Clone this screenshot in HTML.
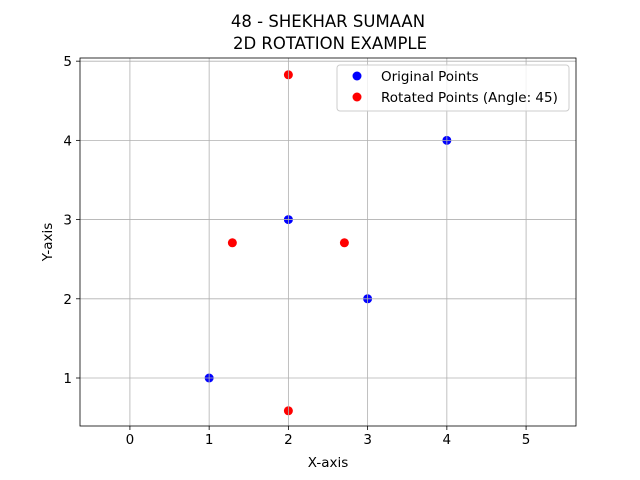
<!DOCTYPE html>
<html><head><meta charset="utf-8"><style>
body{margin:0;background:#fff;}
svg{display:block;font-family:"DejaVu Sans","Liberation Sans",sans-serif;}
</style></head><body>
<svg id="chart" width="640" height="480">
<text x="328" y="27" font-size="16.5" text-anchor="middle">48 - SHEKHAR SUMAAN</text>
<text x="330" y="49" font-size="16.5" text-anchor="middle">2D ROTATION EXAMPLE</text>
<g id="plot"></g>
<text x="328" y="467" font-size="13.5" text-anchor="middle">X-axis</text>
<text x="0" y="0" font-size="13.5" text-anchor="middle" transform="translate(52,242) rotate(-90)">Y-axis</text>
<g>
<rect x="337" y="65" width="232" height="46" rx="3" fill="#fff" fill-opacity="0.8" stroke="#ccc"/>
<circle cx="357" cy="76" r="4.5" fill="#0000ff"/>
<text x="381" y="81" font-size="13.5">Original Points</text>
<circle cx="357" cy="97" r="4.5" fill="#ff0000"/>
<text x="381" y="102" font-size="13.5">Rotated Points (Angle: 45)</text>
</g>
</svg>
<script>
const xTicks=[0,1,2,3,4,5];
const yTicks=[1,2,3,4,5];
const origX=[1,3,4,2];
const origY=[1,2,4,3];
const rotX=[2,2.707,2,1.293];
const rotY=[0.586,2.707,4.828,2.707];
const L=80,R=576,T=58,B=426,xmin=-0.63,xmax=5.63,ymin=0.394,ymax=5.04;
function sx(v){return L+(v-xmin)/(xmax-xmin)*(R-L);}
function sy(v){return B-(v-ymin)/(ymax-ymin)*(B-T);}
const g=document.getElementById('plot');const NS='http://www.w3.org/2000/svg';
function mk(t,a){const e=document.createElementNS(NS,t);for(const k in a)e.setAttribute(k,a[k]);g.appendChild(e);return e;}
origX.forEach((v,i)=>{const c=mk('circle',{cx:sx(v),cy:sy(origY[i]),r:4.5,fill:'#0000ff'});

});
rotX.forEach((v,i)=>{const c=mk('circle',{cx:sx(v),cy:sy(rotY[i]),r:4.5,fill:'#ff0000'});

});
xTicks.forEach(v=>{const x=sx(v);
const l=mk('line',{x1:x,x2:x,y1:T,y2:B,stroke:'#b0b0b0','stroke-width':0.8});


mk('line',{x1:x,x2:x,y1:B,y2:B+4,stroke:'#000','stroke-width':0.8});
const t=mk('text',{x:x,y:B+18,'font-size':13.5,'text-anchor':'middle'});t.textContent=v;

});
yTicks.forEach(v=>{const y=sy(v);
const l=mk('line',{x1:L,x2:R,y1:y,y2:y,stroke:'#b0b0b0','stroke-width':0.8});


mk('line',{x1:L-4,x2:L,y1:y,y2:y,stroke:'#000','stroke-width':0.8});
const t=mk('text',{x:L-8,y:y+5,'font-size':13.5,'text-anchor':'end'});t.textContent=v;

});
const f=mk('rect',{x:L,y:T,width:R-L,height:B-T,fill:'none',stroke:'#000','stroke-width':0.8});


</script>
</body></html>
